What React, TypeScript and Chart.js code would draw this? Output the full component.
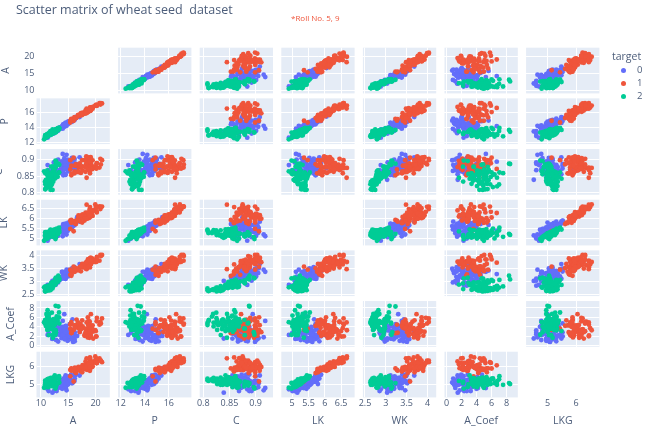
import React, { useEffect, useRef } from "react";
import { Chart, registerables } from "chart.js";

Chart.register(...registerables);

const columns = ["A", "P", "C", "LK", "WK", "A_Coef", "LKG"];
const targets = ["0", "1", "2"];
const targetColors = ["#636efa", "#EF553B", "#00cc96"];

const axisRanges = [
  [9.2, 22.6],
  [11.78, 17.88],
  [0.7933, 0.9331],
  [4.67, 6.91],
  [2.45, 4.21],
  [-0.26, 9.48],
  [4.25, 6.82],
];
const axisTicks = [
  [10, 15, 20],
  [12, 14, 16],
  [0.8, 0.85, 0.9],
  [5, 5.5, 6, 6.5],
  [2.5, 3, 3.5, 4],
  [0, 2, 4, 6, 8],
  [5, 6],
];

const target0 = [
[15.26,14.84,0.871,5.763,3.312,2.221,5.22],[14.88,14.57,0.8811,5.554,3.333,1.018,4.956],[14.29,14.09,0.905,5.291,3.337,2.699,4.825],[13.84,13.94,0.8955,5.324,3.379,2.259,4.805],[16.14,14.99,0.9034,5.658,3.562,1.355,5.175],[14.38,14.21,0.8951,5.386,3.312,2.462,4.956],[14.69,14.49,0.8799,5.563,3.259,3.586,5.219],[14.11,14.1,0.8911,5.42,3.302,2.7,5],[16.63,15.46,0.8747,6.053,3.465,2.04,5.877],[16.44,15.25,0.888,5.884,3.505,1.969,5.533],
[15.26,14.85,0.8696,5.714,3.242,4.543,5.314],[14.03,14.16,0.8796,5.438,3.201,1.717,5.001],[13.89,14.02,0.888,5.439,3.199,3.986,4.738],[13.78,14.06,0.8759,5.479,3.156,3.136,4.872],[13.74,14.05,0.8744,5.482,3.114,2.932,4.825],[14.59,14.28,0.8993,5.351,3.333,4.185,4.781],[13.99,13.83,0.9183,5.119,3.383,5.234,4.781],[15.69,14.75,0.9058,5.527,3.514,1.599,5.046],[14.7,14.21,0.9153,5.205,3.466,1.767,4.649],[12.72,13.57,0.8686,5.226,3.049,4.102,4.914],
[14.16,14.4,0.8584,5.658,3.129,3.072,5.176],[14.11,14.26,0.8722,5.52,3.168,2.688,5.219],[15.88,14.9,0.8988,5.618,3.507,0.7651,5.091],[12.08,13.23,0.8664,5.099,2.936,1.415,4.961],[15.01,14.76,0.8657,5.789,3.245,1.791,5.001],[16.19,15.16,0.8849,5.833,3.421,0.903,5.307],[13.02,13.76,0.8641,5.395,3.026,3.373,4.825],[12.74,13.67,0.8564,5.395,2.956,2.504,4.869],[14.11,14.18,0.882,5.541,3.221,2.754,5.038],[13.45,14.02,0.8604,5.516,3.065,3.531,5.097],
[13.16,13.82,0.8662,5.454,2.975,0.8551,5.056],[15.49,14.94,0.8724,5.757,3.371,3.412,5.228],[14.09,14.41,0.8529,5.717,3.186,3.92,5.299],[13.94,14.17,0.8728,5.585,3.15,2.124,5.012],[15.05,14.68,0.8779,5.712,3.328,2.129,5.36],[16.12,15,0.9,5.709,3.485,2.27,5.443],[16.2,15.27,0.8734,5.826,3.464,2.823,5.527],[17.08,15.38,0.9079,5.832,3.683,2.956,5.484],[14.8,14.52,0.8823,5.656,3.288,3.112,5.309],[14.28,14.17,0.8944,5.397,3.298,6.685,5.001],
[13.54,13.85,0.8871,5.348,3.156,2.587,5.178],[13.5,13.85,0.8852,5.351,3.158,2.249,5.176],[13.16,13.55,0.9009,5.138,3.201,2.461,4.783],[15.5,14.86,0.882,5.877,3.396,4.711,5.528],[15.11,14.54,0.8986,5.579,3.462,3.128,5.18],[13.8,14.04,0.8794,5.376,3.155,1.56,4.961],[15.36,14.76,0.8861,5.701,3.393,1.367,5.132],[14.99,14.56,0.8883,5.57,3.377,2.958,5.175],[14.79,14.52,0.8819,5.545,3.291,2.704,5.111],[14.86,14.67,0.8676,5.678,3.258,2.129,5.351],
[14.43,14.4,0.8751,5.585,3.272,3.975,5.144],[15.78,14.91,0.8923,5.674,3.434,5.593,5.136],[14.49,14.61,0.8538,5.715,3.113,4.116,5.396],[14.33,14.28,0.8831,5.504,3.199,3.328,5.224],[14.52,14.6,0.8557,5.741,3.113,1.481,5.487],[15.03,14.77,0.8658,5.702,3.212,1.933,5.439],[14.46,14.35,0.8818,5.388,3.377,2.802,5.044],[14.92,14.43,0.9006,5.384,3.412,1.142,5.088],[15.38,14.77,0.8857,5.662,3.419,1.999,5.222],[12.11,13.47,0.8392,5.159,3.032,1.502,4.519],
[11.42,12.86,0.8683,5.008,2.85,2.7,4.607],[11.23,12.63,0.884,4.902,2.879,2.269,4.703],[12.36,13.19,0.8923,5.076,3.042,3.22,4.605],[13.22,13.84,0.868,5.395,3.07,4.157,5.088],[12.78,13.57,0.8716,5.262,3.026,1.176,4.782],[12.88,13.5,0.8879,5.139,3.119,2.352,4.607],[14.34,14.37,0.8726,5.63,3.19,1.313,5.15],[14.01,14.29,0.8625,5.609,3.158,2.217,5.132],[14.37,14.39,0.8726,5.569,3.153,1.464,5.3],[12.73,13.75,0.8458,5.412,2.882,3.533,5.067],
];

const target1 = [
[17.63,15.98,0.8673,6.191,3.561,4.076,6.06],[16.84,15.67,0.8623,5.998,3.484,4.675,5.877],[17.26,15.73,0.8763,5.978,3.594,4.539,5.791],[19.11,16.26,0.9081,6.154,3.93,2.936,6.079],[16.82,15.51,0.8786,6.017,3.486,4.004,5.841],[16.77,15.62,0.8638,5.927,3.438,4.92,5.795],[17.32,15.91,0.8599,6.064,3.403,3.824,5.922],[20.71,17.23,0.8763,6.579,3.814,4.451,6.451],[18.94,16.49,0.875,6.445,3.639,5.064,6.362],[17.12,15.55,0.8892,5.85,3.566,2.858,5.746],
[16.53,15.34,0.8823,5.875,3.467,5.532,5.88],[18.72,16.19,0.8977,6.006,3.857,5.324,5.879],[20.2,16.89,0.8894,6.285,3.864,5.173,6.187],[19.57,16.74,0.8779,6.384,3.772,1.472,6.273],[19.51,16.71,0.878,6.366,3.801,2.962,6.185],[18.27,16.09,0.887,6.173,3.651,2.443,6.197],[18.88,16.26,0.8969,6.084,3.764,1.649,6.109],[18.98,16.66,0.859,6.549,3.67,3.691,6.498],[21.18,17.21,0.8989,6.573,4.033,5.78,6.231],[20.88,17.05,0.9031,6.45,4.032,5.016,6.321],
[20.1,16.99,0.8746,6.581,3.785,1.955,6.449],[18.76,16.2,0.8984,6.172,3.796,3.12,6.053],[18.81,16.29,0.8906,6.272,3.693,3.237,6.053],[18.59,16.05,0.9066,6.037,3.86,6.001,5.877],[18.36,16.52,0.8452,6.666,3.485,4.933,6.448],[16.87,15.65,0.8648,6.139,3.463,3.696,5.967],[19.31,16.59,0.8815,6.341,3.81,3.477,6.238],[18.98,16.57,0.8687,6.449,3.552,2.144,6.453],[18.17,16.26,0.8637,6.271,3.512,2.853,6.273],[18.72,16.34,0.881,6.219,3.684,2.188,6.097],
[16.41,15.25,0.8866,5.718,3.525,4.217,5.618],[17.99,15.86,0.8992,5.89,3.694,2.068,5.837],[19.46,16.5,0.8985,6.113,3.892,4.308,6.009],[19.18,16.63,0.8717,6.369,3.681,3.357,6.229],[18.95,16.42,0.8829,6.248,3.755,3.368,6.148],[18.83,16.29,0.8917,6.037,3.786,2.553,5.879],[18.85,16.17,0.9056,6.152,3.806,2.843,6.2],[17.63,15.86,0.88,6.033,3.573,3.747,5.929],[19.94,16.92,0.8752,6.675,3.763,3.252,6.55],[18.55,16.22,0.8865,6.153,3.674,1.738,5.894],
[18.45,16.12,0.8921,6.107,3.769,2.235,5.794],[19.38,16.72,0.8716,6.303,3.791,3.678,5.965],[19.13,16.31,0.9035,6.183,3.902,2.109,5.924],[19.14,16.61,0.8722,6.259,3.737,6.682,6.053],[20.97,17.25,0.8859,6.563,3.991,4.677,6.316],[19.06,16.45,0.8854,6.416,3.719,2.248,6.163],[18.96,16.2,0.9077,6.051,3.897,4.334,5.75],[19.15,16.45,0.889,6.245,3.815,3.084,6.185],[18.89,16.23,0.9008,6.227,3.769,3.639,5.966],[20.03,16.9,0.8811,6.493,3.857,3.063,6.32],
[20.24,16.91,0.8897,6.315,3.962,5.901,6.188],[18.14,16.12,0.8772,6.059,3.563,3.619,6.011],[16.17,15.38,0.8588,5.762,3.387,4.286,5.703],[18.43,15.97,0.9077,5.98,3.771,2.984,5.905],[15.99,14.89,0.9064,5.363,3.582,3.336,5.144],[18.75,16.18,0.8999,6.111,3.869,4.188,5.992],[18.65,16.41,0.8698,6.285,3.594,4.391,6.102],[17.98,15.85,0.8993,5.979,3.687,2.257,5.919],[20.16,17.03,0.8735,6.513,3.773,1.91,6.185],[17.55,15.66,0.8991,5.791,3.69,5.366,5.661],
[18.3,15.89,0.9108,5.979,3.755,2.837,5.962],[18.94,16.32,0.8942,6.144,3.825,2.908,5.949],[15.38,14.9,0.8706,5.884,3.268,4.462,5.795],[16.16,15.33,0.8644,5.845,3.395,4.266,5.795],[15.56,14.89,0.8823,5.776,3.408,4.972,5.847],[15.38,14.66,0.899,5.477,3.465,3.6,5.439],[17.36,15.76,0.8785,6.145,3.574,3.526,5.971],[15.57,15.15,0.8527,5.92,3.231,2.64,5.879],[15.6,15.11,0.858,5.832,3.286,2.725,5.752],[16.23,15.18,0.882,5.872,3.472,3.769,5.922],
];

const target2 = [
[13.07,13.92,0.848,5.472,2.994,5.304,5.395],[13.32,13.94,0.8613,5.541,3.073,7.035,5.44],[13.34,13.95,0.862,5.389,3.074,5.995,5.307],[12.22,13.32,0.8652,5.224,2.967,5.469,5.221],[11.82,13.4,0.8274,5.314,2.777,4.471,5.178],[11.21,13.13,0.8167,5.279,2.687,6.169,5.275],[11.43,13.13,0.8335,5.176,2.719,2.221,5.132],[12.49,13.46,0.8658,5.267,2.967,4.421,5.002],[12.7,13.71,0.8491,5.386,2.911,3.26,5.316],[10.79,12.93,0.8107,5.317,2.648,5.462,5.194],
[11.83,13.23,0.8496,5.263,2.84,5.195,5.307],[12.01,13.52,0.8249,5.405,2.776,6.992,5.27],[12.26,13.6,0.8333,5.408,2.833,4.756,5.36],[11.18,13.04,0.8266,5.22,2.693,3.332,5.001],[11.36,13.05,0.8382,5.175,2.755,4.048,5.263],[11.19,13.05,0.8253,5.25,2.675,5.813,5.219],[11.34,12.87,0.8596,5.053,2.849,3.347,5.003],[12.13,13.73,0.8081,5.394,2.745,4.825,5.22],[11.75,13.52,0.8082,5.444,2.678,4.378,5.31],[11.49,13.22,0.8263,5.304,2.695,5.388,5.31],
[12.54,13.67,0.8425,5.451,2.879,3.082,5.491],[12.02,13.33,0.8503,5.35,2.81,4.271,5.308],[12.05,13.41,0.8416,5.267,2.847,4.988,5.046],[12.55,13.57,0.8558,5.333,2.968,4.419,5.176],[11.14,12.79,0.8558,5.011,2.794,6.388,5.049],[12.1,13.15,0.8793,5.105,2.941,2.201,5.056],[12.44,13.59,0.8462,5.319,2.897,4.924,5.27],[12.15,13.45,0.8443,5.417,2.837,3.638,5.338],[11.35,13.12,0.8291,5.176,2.668,4.337,5.132],[11.24,13,0.8359,5.09,2.715,3.521,5.088],
[11.02,13,0.8189,5.325,2.701,6.735,5.163],[11.55,13.1,0.8455,5.167,2.845,6.715,4.956],[11.27,12.97,0.8419,5.088,2.763,4.309,5],[11.4,13.08,0.8375,5.136,2.763,5.588,5.089],[10.83,12.96,0.8099,5.278,2.641,5.182,5.185],[10.8,12.57,0.859,4.981,2.821,4.773,5.063],[11.26,13.01,0.8355,5.186,2.71,5.335,5.092],[10.74,12.73,0.8329,5.145,2.642,4.702,4.963],[11.48,13.05,0.8473,5.18,2.758,5.876,5.002],[12.21,13.47,0.8453,5.357,2.893,1.661,5.178],
[11.41,12.95,0.856,5.09,2.775,4.957,4.825],[12.46,13.41,0.8706,5.236,3.017,4.987,5.147],[12.19,13.36,0.8579,5.24,2.909,4.857,5.158],[11.65,13.07,0.8575,5.108,2.85,5.209,5.135],[12.89,13.77,0.8541,5.495,3.026,6.185,5.316],[11.56,13.31,0.8198,5.363,2.683,4.062,5.182],[11.81,13.45,0.8198,5.413,2.716,4.898,5.352],[10.91,12.8,0.8372,5.088,2.675,4.179,4.956],[11.23,12.82,0.8594,5.089,2.821,7.524,4.957],[10.59,12.41,0.8648,4.899,2.787,4.975,4.794],
[10.93,12.8,0.839,5.046,2.717,5.398,5.045],[11.27,12.86,0.8563,5.091,2.804,3.985,5.001],[11.87,13.02,0.8795,5.132,2.953,3.597,5.132],[10.82,12.83,0.8256,5.18,2.63,4.853,5.089],[12.11,13.27,0.8639,5.236,2.975,4.132,5.012],[12.8,13.47,0.886,5.16,3.126,4.873,4.914],[12.79,13.53,0.8786,5.224,3.054,5.483,4.958],[13.37,13.78,0.8849,5.32,3.128,4.67,5.091],[12.62,13.67,0.8481,5.41,2.911,3.306,5.231],[12.76,13.38,0.8964,5.073,3.155,2.828,4.83],
[12.38,13.44,0.8609,5.219,2.989,5.472,5.045],[12.67,13.32,0.8977,4.984,3.135,2.3,4.745],[11.18,12.72,0.868,5.009,2.81,4.051,4.828],[12.7,13.41,0.8874,5.183,3.091,8.456,5],[12.37,13.47,0.8567,5.204,2.96,2.919,5.001],[12.19,13.2,0.8783,5.137,2.981,3.631,4.87],[11.23,12.88,0.8511,5.14,2.795,4.325,5.003],[13.2,13.66,0.8883,5.236,3.232,8.315,5.056],[11.84,13.21,0.8521,5.175,2.836,3.598,5.044],[12.3,13.34,0.8684,5.243,2.974,5.637,5.063],
];

const targetRows = [target0, target1, target2];

const W = 668;
const H = 428;
const INK = "#4c5d7a";
const FONT = '"Open Sans", sans-serif';
const TICK_SIZE = 9;
const TITLE_SIZE = 10.5;
const grid = { left: 36.5, stepX: 81.6, width: 73.3, top: 47.7, stepY: 50.67, height: 45.7 };
const yTitleCenters = [6, 5, -1, 4, 4, 11.5, 11.5];
const xTitleCenter = 421;

const panelX = (i: number) => grid.left + grid.stepX * i;
const panelY = (i: number) => grid.top + grid.stepY * i;

const matrixLayout = {
  id: "matrixLayout",
  afterLayout(chart: any) {
    const n = columns.length;
    const lh = TITLE_SIZE * 1.2;
    columns.forEach((_, i) => {
      const xs = chart.scales["x" + i];
      xs.left = panelX(i);
      xs.right = panelX(i) + grid.width;
      xs.width = grid.width;
      xs.top = panelY(n - 1) + grid.height;
      xs.bottom = xTitleCenter + lh / 2;
      xs.height = xs.bottom - xs.top;
      xs.configure();
      const ys = chart.scales["y" + i];
      ys.left = yTitleCenters[i] - lh / 2;
      ys.right = grid.left;
      ys.width = ys.right - ys.left;
      ys.top = panelY(i);
      ys.bottom = panelY(i) + grid.height;
      ys.height = grid.height;
      ys.configure();
    });
    const right = panelX(n - 1) + grid.width;
    const bottom = panelY(n - 1) + grid.height;
    chart.chartArea = {
      left: grid.left,
      top: grid.top,
      right,
      bottom,
      width: right - grid.left,
      height: bottom - grid.top,
    };
  },
  beforeDraw(chart: any) {
    const ctx = chart.ctx;
    ctx.save();
    ctx.fillStyle = "#E5ECF6";
    columns.forEach((_, r) => {
      columns.forEach((__, c) => {
        if (r !== c) ctx.fillRect(panelX(c), panelY(r), grid.width, grid.height);
      });
    });
    ctx.restore();
  },
};

function buildScales() {
  const scales: any = {};
  columns.forEach((name, i) => {
    const common = {
      type: "linear",
      min: axisRanges[i][0],
      max: axisRanges[i][1],
      grid: { color: "#ffffff", lineWidth: 1, drawTicks: false },
      border: { display: false },
      title: {
        display: true,
        text: name,
        color: INK,
        padding: 0,
        font: { family: FONT, size: TITLE_SIZE },
      },
      ticks: {
        color: INK,
        autoSkip: false,
        minRotation: 0,
        maxRotation: 0,
        font: { family: FONT, size: TICK_SIZE },
        callback: (v: number) => String(v),
      },
      afterBuildTicks: (s: any) => {
        s.ticks = axisTicks[i].map((value) => ({ value }));
      },
    };
    scales["x" + i] = {
      ...common,
      axis: "x",
      position: "bottom",
      ticks: { ...common.ticks, padding: 1 },
      afterFit: (s: any) => {
        s.height = 1;
      },
    };
    scales["y" + i] = {
      ...common,
      axis: "y",
      position: "left",
      ticks: { ...common.ticks, padding: 2 },
      afterFit: (s: any) => {
        s.width = 1;
      },
    };
  });
  return scales;
}

function buildDatasets() {
  const datasets: any[] = [];
  targets.forEach((t, k) => {
    columns.forEach((_, r) => {
      columns.forEach((__, c) => {
        if (r === c) return;
        datasets.push({
          label: t,
          order: targets.length - k,
          xAxisID: "x" + c,
          yAxisID: "y" + r,
          data: targetRows[k].map((row) => ({ x: row[c], y: row[r] })),
          backgroundColor: targetColors[k],
          borderWidth: 0,
          pointRadius: 2.4,
          clip: false,
        });
      });
    });
  });
  return datasets;
}

const abs = (style: React.CSSProperties): React.CSSProperties => ({
  position: "absolute",
  whiteSpace: "pre",
  fontFamily: FONT,
  color: INK,
  lineHeight: 1,
  ...style,
});

export default function App() {
  const ref = useRef<HTMLCanvasElement>(null);
  useEffect(() => {
    const chart = new Chart(ref.current as HTMLCanvasElement, {
      type: "scatter",
      data: { datasets: buildDatasets() },
      options: {
        animation: false,
        responsive: false,
        devicePixelRatio: 1,
        events: [],
        layout: { padding: 0 },
        scales: buildScales(),
        plugins: { legend: { display: false }, tooltip: { enabled: false } },
      } as any,
      plugins: [matrixLayout],
    } as any);
    return () => chart.destroy();
  }, []);

  return (
    <div style={{ position: "fixed", left: 0, top: 0, width: W, height: H, background: "#fff", overflow: "hidden" }}>
      <canvas ref={ref} width={W} height={H} style={{ display: "block", width: W, height: H }} />
      <div style={abs({ left: 16, top: 3.5, fontSize: 12.5 })}>{"Scatter matrix of wheat seed  dataset"}</div>
      <div style={abs({ left: 291, top: 14, fontSize: 8, color: "#EF553B" })}>{"*Roll No. 5, 9"}</div>
      <div style={abs({ left: 612, top: 51, fontSize: 10.5 })}>target</div>
      {targets.map((t, k) => (
        <React.Fragment key={t}>
          <div
            style={{
              position: "absolute",
              left: 621.3,
              top: 67.6 + 13 * k,
              width: 5,
              height: 5,
              borderRadius: "50%",
              background: targetColors[k],
            }}
          />
          <div style={abs({ left: 637, top: 65 + 13 * k, fontSize: 9.5 })}>{t}</div>
        </React.Fragment>
      ))}
    </div>
  );
}
